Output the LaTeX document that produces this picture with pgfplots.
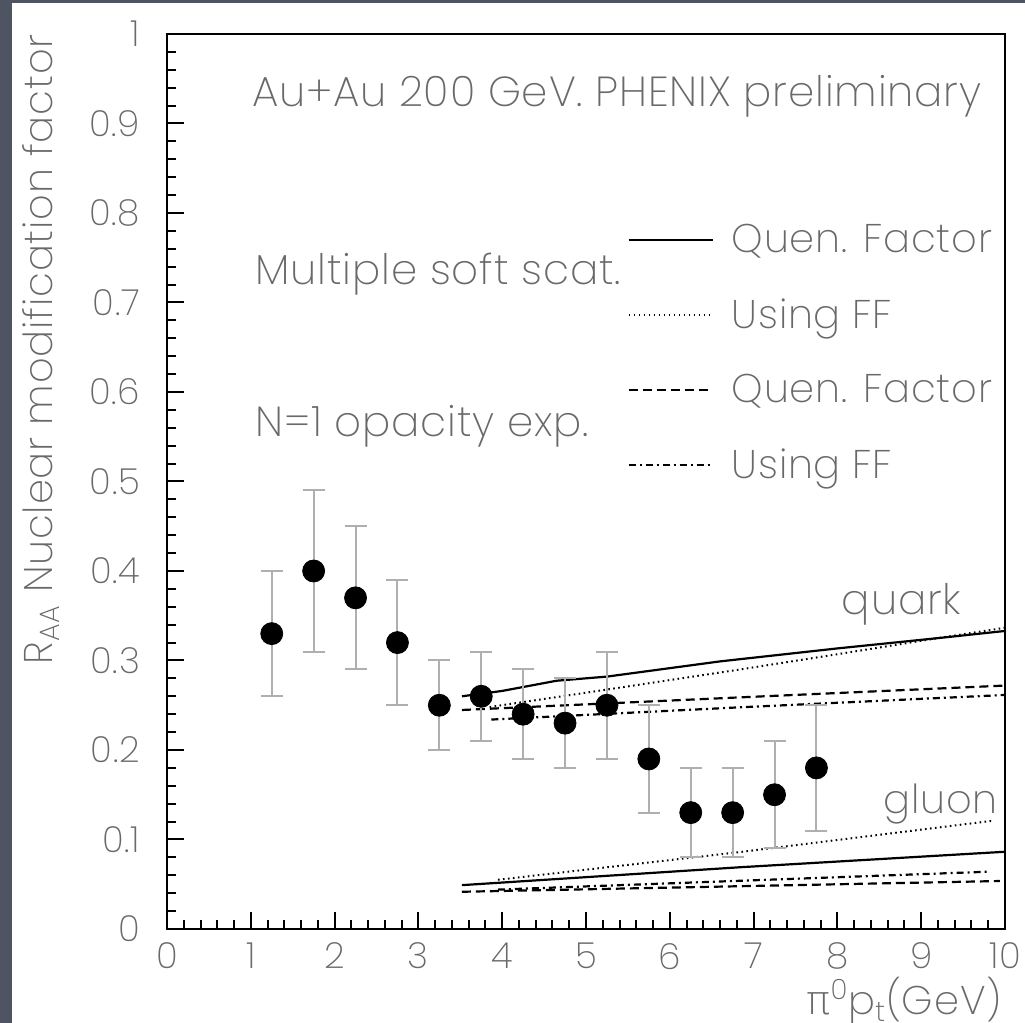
\documentclass[border=0pt]{standalone}
\usepackage{fontspec}
\setmainfont{Poppins ExtraLight}[LetterSpace=2]
\newfontfamily\greekfont{DejaVu Sans ExtraLight}
\usepackage{pgfplots}
\usepackage{pgfplotstable}
\pgfplotsset{compat=1.18}
\definecolor{txt}{RGB}{105,105,105}
\definecolor{bggray}{RGB}{78,84,98}
\definecolor{errgray}{RGB}{175,175,175}

\pgfplotstableread{
x y e
1.25 0.33 0.07
1.75 0.40 0.09
2.25 0.37 0.08
2.75 0.32 0.07
3.25 0.25 0.05
3.75 0.26 0.05
4.25 0.24 0.05
4.75 0.23 0.05
5.25 0.25 0.06
5.75 0.19 0.06
6.25 0.13 0.05
6.75 0.13 0.05
7.25 0.15 0.06
7.75 0.18 0.07
}\datatable

\begin{document}
\begin{tikzpicture}
\fill[bggray] (-83.5pt,-47pt) rectangle (429pt,464.5pt);
\fill[white] (-77.5pt,-47pt) rectangle (429pt,463pt);
\useasboundingbox (-83.5pt,-47pt) rectangle (429pt,464.5pt);
\begin{axis}[
  scale only axis, width=419pt, height=447.5pt,
  xmin=0, xmax=10, ymin=0, ymax=1,
  clip=false,
  xtick={0,1,2,3,4,5,6,7,8,9,10},
  ytick={0,0.1,0.2,0.3,0.4,0.5,0.6,0.7,0.8,0.9,1},
  minor x tick num=4, minor y tick num=4,
  tick align=inside, xtick pos=bottom, ytick pos=left,
  major tick length=8.5pt, minor tick length=4.5pt,
  every tick/.style={black, line width=1pt},
  axis line style={line width=1.2pt},
  ticklabel style={font=\fontsize{18}{18}\selectfont, text=txt},
  /pgf/number format/assume math mode=true,
  yticklabel style={xshift=-10pt},
  xticklabel style={yshift=-3.5pt},
  legend cell align=left,
  legend image code/.code={\draw[#1] (0pt,0pt) -- (42pt,0pt);},
  legend style={draw=none, fill=none, at={(axis cs:5.42,0.797)}, anchor=north west,
    font=\fontsize{20}{20}\selectfont, text=txt, row sep=17.5pt, column sep=7pt},
]
% quark
\addplot[black, line width=1.1pt] coordinates {(3.52,0.260) (4.0,0.266) (4.65,0.2774) (5.25,0.282) (6.6,0.299) (8,0.3135) (9.2,0.325) (10,0.333)};
\addlegendentry{Quen. Factor}
\addplot[black, line width=1pt, dash pattern=on 0.8pt off 1.7pt] coordinates {(3.85,0.248) (5,0.264) (6.84,0.290) (8,0.307) (9.2,0.325) (10,0.3366)};
\addlegendentry{Using FF}
\addplot[black, line width=1.1pt, dash pattern=on 4.5pt off 2.5pt] coordinates {(3.52,0.2447) (6.84,0.2588) (10,0.272)};
\addlegendentry{Quen. Factor}
\addplot[black, line width=1.1pt, dash pattern=on 3.5pt off 2pt on 1pt off 2pt] coordinates {(3.87,0.234) (6.84,0.2477) (10,0.2615)};
\addlegendentry{Using FF}
% gluon
\addplot[black, line width=1.1pt, forget plot] coordinates {(3.52,0.049) (6.84,0.069) (10,0.0863)};
\addplot[black, line width=1pt, dash pattern=on 0.8pt off 1.7pt, forget plot] coordinates {(3.95,0.055) (6.84,0.086) (9.86,0.121)};
\addplot[black, line width=1.1pt, dash pattern=on 4.5pt off 2.5pt, forget plot] coordinates {(3.52,0.0416) (9.94,0.0536)};
\addplot[black, line width=1.1pt, dash pattern=on 3.5pt off 2pt on 1pt off 2pt, forget plot] coordinates {(3.95,0.044) (9.8,0.064)};
% data
\addplot[only marks, mark=*, mark size=5.5pt, black, forget plot,
  error bars/.cd, y dir=both, y explicit,
  error bar style={errgray, line width=1pt},
  error mark options={errgray, line width=1pt, mark size=5.5pt, rotate=90}]
  table[x=x, y=y, y error=e] {\datatable};

\node[anchor=base west, inner sep=0pt, text=txt, font=\fontsize{21}{21}\selectfont] at (axis cs:1.01,0.919) {Au+Au 200 GeV. PHENIX preliminary};
\node[anchor=base west, inner sep=0pt, text=txt, font=\fontsize{21}{21}\selectfont] at (axis cs:1.05,0.7196) {Multiple soft scat.};
\node[anchor=base west, inner sep=0pt, text=txt, font=\fontsize{21}{21}\selectfont] at (axis cs:1.05,0.550) {N=1 opacity exp.};
\node[anchor=base west, inner sep=0pt, text=txt, font=\fontsize{21}{21}\selectfont] at (axis cs:8.05,0.351) {quark};
\node[anchor=base west, inner sep=0pt, text=txt, font=\fontsize{20}{20}\selectfont] at (axis cs:8.545,0.1296) {gluon};
\node[rotate=90, anchor=base east, inner sep=0pt, text=txt, font=\fontsize{20}{20}\selectfont] at ([xshift=-57pt]rel axis cs:0,1) {R\textsubscript{AA} Nuclear modification factor};
\node[anchor=base east, inner sep=0pt, text=txt, font=\fontsize{20}{20}\selectfont] at ([xshift=-1.5pt,yshift=-43pt]rel axis cs:1,0) {{\greekfont π}\textsuperscript{0}p\textsubscript{t}(GeV)};
\end{axis}
\end{tikzpicture}
\end{document}
